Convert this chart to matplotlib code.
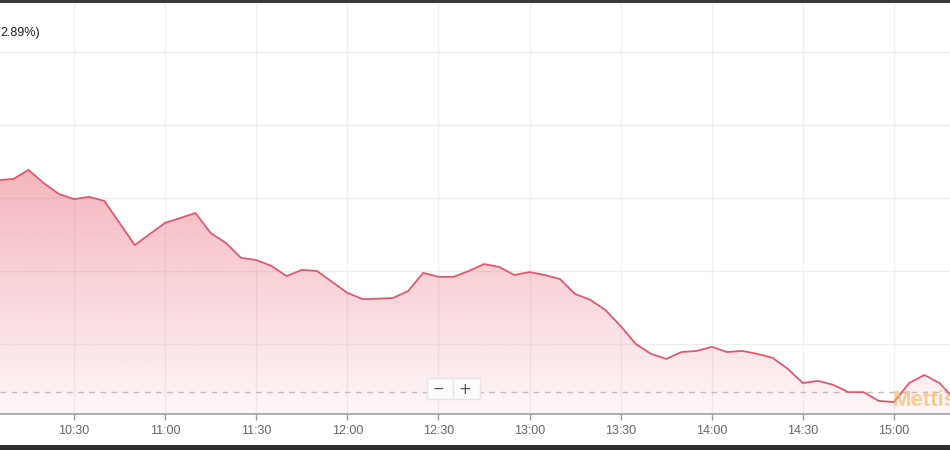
import numpy as np
import matplotlib
matplotlib.use("Agg")
from matplotlib import pyplot as plt
from matplotlib.patches import Rectangle
from matplotlib.lines import Line2D

# intraday index values (5 min steps, a few gaps where the line is straight)
times = ["10:05", "10:10", "10:15", "10:20", "10:25", "10:30", "10:35", "10:40",
         "10:50", "11:00", "11:05", "11:10", "11:15", "11:20", "11:25", "11:30",
         "11:35", "11:40", "11:45", "11:50", "11:55", "12:00", "12:05", "12:10",
         "12:15", "12:20", "12:25", "12:30", "12:35", "12:40", "12:45", "12:50",
         "12:55", "13:00", "13:05", "13:10", "13:15", "13:20", "13:25", "13:30",
         "13:35", "13:40", "13:45", "13:50", "13:55", "14:00", "14:05", "14:10",
         "14:15", "14:20", "14:25", "14:30", "14:35", "14:40", "14:45", "14:50",
         "14:55", "15:00", "15:05", "15:10", "15:15", "15:20"]
values = [40249, 40252, 40277, 40241, 40211, 40197, 40203, 40192,
          40071, 40132, 40145, 40159, 40104, 40077, 40036, 40030,
          40014, 39986, 40003, 40000, 39970, 39940, 39923, 39924,
          39926, 39945, 39995, 39984, 39984, 40000, 40019, 40011,
          39989, 39997, 39989, 39978, 39937, 39921, 39893, 39849,
          39800, 39773, 39759, 39778, 39781, 39792, 39778, 39781,
          39773, 39762, 39732, 39693, 39699, 39688, 39668, 39668,
          39644, 39641, 39693, 39715, 39693, 39647]
tick_labels = ["10:30", "11:00", "11:30", "12:00", "12:30", "13:00",
               "13:30", "14:00", "14:30", "15:00"]
grid_values = [39800, 40000, 40200, 40400, 40600]
ref_level = 39668.5
change_text = "2.89%)"


def to_min(s):
    h, m = s.split(":")
    return int(h) * 60 + int(m)


x = np.array([to_min(t) for t in times], dtype=float)
y = np.array(values, dtype=float)
xt = [to_min(t) for t in tick_labels]

W, H = 950, 450
fig = plt.figure(figsize=(9.5, 4.5), dpi=100)
fig.patch.set_facecolor("white")

ax_top, ax_bot = 3, 414
ax = fig.add_axes([0, 1 - ax_bot / H, 1, (ax_bot - ax_top) / H])
ax.set_xlim(605.63, 918.44)
ax.set_ylim(39608.2, 40734.2)
ax.set_facecolor("white")

# grid
for g in grid_values:
    ax.axhline(g, color="#eeeeee", lw=1, zorder=1)
for t in xt:
    ax.axvline(t, color="#f0f0f0", lw=1, zorder=1)

# gradient area under the line
poly = ax.fill_between(x, y, 39608.2, color="none", lw=0)
base = np.array([232, 90, 110]) / 255.0
ny = 300
alphas = np.linspace(0.05, 0.45, ny)
grad = np.ones((ny, 1, 4))
grad[:, 0, :3] = base
grad[:, 0, 3] = alphas
img = ax.imshow(grad, extent=[605.63, 918.44, 39608.2, y.max()],
                origin="lower", aspect="auto", zorder=2)
clip = poly.get_paths()[0]
img.set_clip_path(clip, transform=ax.transData)

ax.plot(x, y, color="#e05a6e", lw=1.3, zorder=5, solid_joinstyle="round")

ax.axhline(ref_level, color="#bdbdbd", lw=1, ls=(0, (4, 4)), zorder=4)

for s in ["top", "left", "right"]:
    ax.spines[s].set_visible(False)
ax.spines["bottom"].set_color("#a0a0a0")
ax.spines["bottom"].set_linewidth(1.2)
ax.set_yticks([])
ax.set_xticks(xt)
ax.set_xticklabels(tick_labels)
ax.tick_params(axis="x", length=4, width=1, color="#a0a0a0", pad=4,
               labelsize=9, labelcolor="#666666")
for lab in ax.get_xticklabels():
    lab.set_fontfamily("Liberation Sans")

# header text (cut off at the left)
fig.text(0 / W, 1 - 33 / H, change_text, fontsize=9, color="#222222",
         va="center", ha="left", family="Liberation Sans")

# zoom buttons
fig.add_artist(Rectangle((427 / W, 1 - 399 / H), 53 / W, 21 / H,
                         transform=fig.transFigure, facecolor="#fbfbfb",
                         edgecolor="#e6e6e6", lw=1, zorder=10))
fig.add_artist(Line2D([453 / W, 453 / W], [1 - 397 / H, 1 - 380 / H],
                      transform=fig.transFigure, color="#e6e6e6", lw=1,
                      zorder=11))
fig.text(438 / W, 1 - 389 / H, "\u2212", fontsize=10, color="#555555",
         ha="center", va="center", zorder=12)
fig.text(465 / W, 1 - 389 / H, "+", fontsize=11, color="#555555",
         ha="center", va="center", zorder=12)

# watermark
fig.text(893 / W, 1 - 401 / H, "Mettis", fontsize=16, fontweight="bold",
         color="#f6b75e", alpha=0.65, ha="left", va="center", zorder=12,
         family="Liberation Sans")

# dark screenshot borders
fig.add_artist(Rectangle((0, 1 - 3 / H), 1, 3 / H, transform=fig.transFigure,
                         facecolor="#3a3a3a", edgecolor="none", zorder=20))
fig.add_artist(Rectangle((0, 0), 1, 5 / H, transform=fig.transFigure,
                         facecolor="#2e2e2e", edgecolor="none", zorder=20))

fig.savefig("out.png", dpi=100)
